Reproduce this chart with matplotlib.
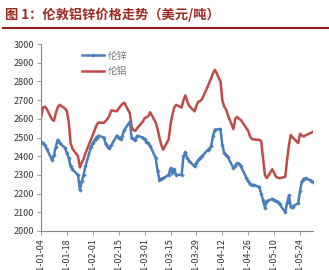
import matplotlib
matplotlib.use("Agg")
import matplotlib.pyplot as plt
import matplotlib.dates as mdates
import pandas as pd

plt.rcParams['font.family'] = ['Noto Sans CJK SC', 'DejaVu Sans']

title = "图 1：伦敦铝锌价格走势（美元/吨）"
series_names = ["伦锌", "伦铝"]
start_date = "2011-01-04"
tick_labels = ["2011-01-04", "2011-01-18", "2011-02-01", "2011-02-15", "2011-03-01",
               "2011-03-15", "2011-03-29", "2011-04-12", "2011-04-26", "2011-05-10",
               "2011-05-24"]
yticks = [2000, 2100, 2200, 2300, 2400, 2500, 2600, 2700, 2800, 2900, 3000]

zinc = [2478, 2470, 2458, 2440,
        2380, 2405, 2450, 2487, 2470,
        2445, 2415, 2390, 2345, 2330,
        2300, 2220, 2265, 2300, 2345,
        2450, 2470, 2488, 2500, 2510,
        2500, 2465, 2450, 2442, 2460,
        2510, 2495, 2490, 2510, 2540,
        2585, 2495, 2490, 2485, 2510,
        2500, 2490, 2478, 2470, 2455,
        2390, 2320, 2275, 2280, 2282,
        2300, 2335, 2310, 2330, 2300,
        2300, 2400, 2420, 2390, 2375,
        2345, 2365, 2380, 2392, 2400,
        2432, 2440, 2455, 2510, 2542,
        2545, 2460, 2418, 2405, 2395,
        2335, 2350, 2362, 2360, 2345,
        2285, 2265, 2252, 2246, 2246,
        2235, 2200, 2165, 2125, 2160,
        2172, 2166, 2160, 2155, 2142,
        2100, 2150, 2190, 2130, 2130,
        2150, 2215, 2265, 2280, 2282,
        2270, 2264]

aluminium = [2605, 2660, 2665, 2655,
             2595, 2590, 2630, 2660, 2675,
             2655, 2640, 2580, 2470, 2440,
             2400, 2340, 2365, 2385, 2415,
             2490, 2513, 2540, 2565, 2580,
             2578, 2590, 2600, 2618, 2645,
             2640, 2655, 2668, 2680, 2686,
             2630, 2555, 2540, 2535, 2550,
             2585, 2603, 2608, 2615, 2635,
             2580, 2545, 2500, 2460, 2435,
             2490, 2570, 2620, 2660, 2675,
             2660, 2700, 2725, 2695, 2670,
             2640, 2670, 2692, 2695, 2705,
             2770, 2795, 2818, 2845, 2862,
             2800, 2700, 2665, 2650, 2620,
             2545, 2600, 2610, 2600, 2594,
             2550, 2535, 2505, 2492, 2490,
             2487, 2480, 2390, 2300, 2283,
             2330, 2310, 2290, 2285, 2282,
             2290, 2380, 2460, 2513, 2500,
             2470, 2520, 2510, 2505, 2512,
             2525, 2530]

dates = pd.bdate_range(start=start_date, periods=len(zinc))

fig = plt.figure(figsize=(3.29, 2.70), dpi=100)
ax = fig.add_axes([41/329, 39/270, 272/329, 187/270])

blue = "#4a7ebb"
red = "#be4b48"
ax.plot(dates, zinc, color=blue, lw=1.8, marker="D", ms=2.2, mew=0, label=series_names[0], zorder=3)
ax.plot(dates, aluminium, color=red, lw=1.8, label=series_names[1], zorder=2)

ax.set_ylim(2000, 3000)
ax.set_yticks(yticks)
ax.set_xlim(dates[0], dates[-1])
tick_dates = pd.to_datetime(tick_labels)
ax.set_xticks(tick_dates)
ax.set_xticklabels(tick_labels, rotation=90, va="top", ha="center")

for s in ["top", "right"]:
    ax.spines[s].set_visible(False)
for s in ["left", "bottom"]:
    ax.spines[s].set_color("#888888")
    ax.spines[s].set_linewidth(0.8)
ax.tick_params(axis="both", labelsize=6.5, colors="#333333", length=3, width=0.6, pad=2)
ax.tick_params(axis="both", color="#888888")

leg = ax.legend(loc="upper left", bbox_to_anchor=(0.12, 1.01), frameon=False, fontsize=7,
                handlelength=2.2, labelspacing=0.55, handletextpad=0.4)
for t in leg.get_texts():
    t.set_color("#777777")

fig.text(0.015, 0.945, title, fontsize=9.5, fontweight="bold", color="#9b2a1e",
         ha="left", va="center")
fig.add_artist(plt.Line2D([0.01, 1.0], [0.895, 0.895], color="#9b1b1b", lw=1.5))

fig.savefig("out.png", dpi=100)
